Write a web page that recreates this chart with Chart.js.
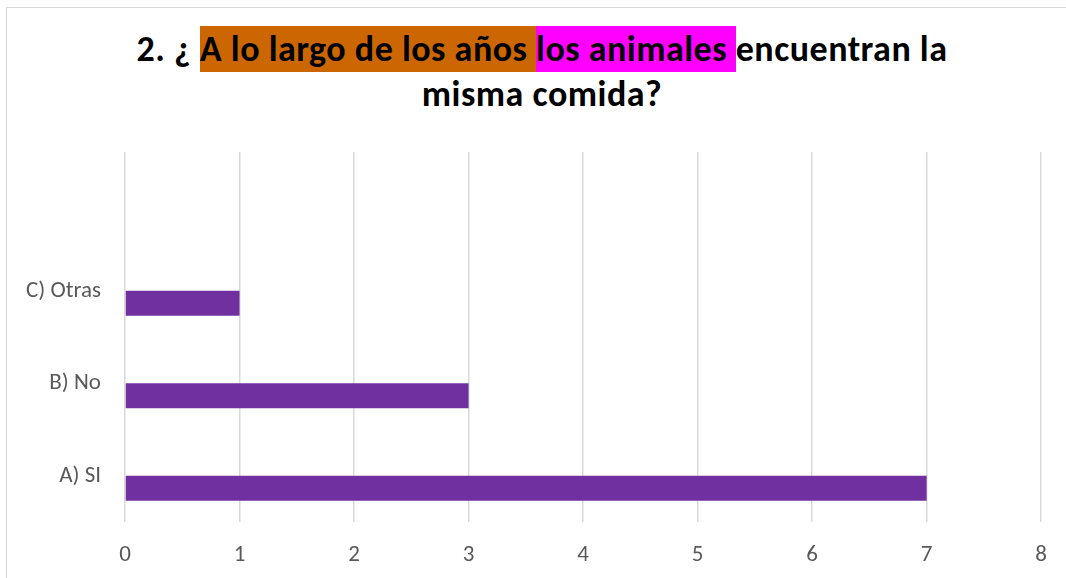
<!DOCTYPE html>
<html>
<head>
<meta charset="utf-8">
<script src="https://cdn.jsdelivr.net/npm/chart.js@4/dist/chart.umd.min.js"></script>
<style>
  html, body { margin: 0; padding: 0; background: #fff; }
  #wrap { position: relative; width: 1066px; height: 578px; overflow: hidden; }
  #frame { position: absolute; left: 6px; top: 7px; width: 1062px; height: 600px; border: 1px solid #d9d9d9; box-sizing: border-box; }
  #title { position: absolute; left: 9px; top: 27px; width: 1066px; text-align: center;
           font: bold 36px Carlito, Calibri, Lato, sans-serif; letter-spacing: 0.5px; line-height: 45px; color: #000; }
  #title span.o { background: #cc6600; padding: 1px 0; }
  #title span.m { background: #ff00ff; padding: 1px 0; }
  canvas { position: absolute; left: 0; top: 0; }
</style>
</head>
<body>
<div id="wrap">
  <div id="frame"></div>
  <div id="title">2. ¿ <span class="o">A lo largo de los años </span><span class="m">los animales </span>encuentran la<br>misma comida?</div>
  <canvas id="c" width="1066" height="578"></canvas>
</div>
<script>
// categorias (de abajo hacia arriba), la ultima vacia
var categories = ['A) SI', 'B) No', 'C) Otras', ''];
var values = [7, 3, 1, null];
// segunda serie vacia del grafico original (desplaza las barras)
var emptySeries = [null, null, null, null];
var xTicks = [0, 1, 2, 3, 4, 5, 6, 7, 8];

var font = 'Carlito, Calibri, "Open Sans", sans-serif';

const config = {
    type: 'bar',
    data: {
        labels: categories,
        datasets: [
            { label: 'Serie 2', data: emptySeries, backgroundColor: '#ed7d31' },
            { label: 'Serie 1', data: values, backgroundColor: '#7030a0' },
        ]
    },
    options: {
        responsive: false,
        animation: false,
        indexAxis: 'y',
        datasets: { bar: { barPercentage: 1, categoryPercentage: 0.54 } },
        layout: { padding: { top: 152, right: 21, left: 0, bottom: 0 } },
        plugins: { legend: { display: false }, tooltip: { enabled: false } },
        scales: {
            x: {
                min: xTicks[0],
                max: xTicks[xTicks.length - 1],
                afterBuildTicks: (s) => { s.ticks = xTicks.map(v => ({ value: v })); },
                afterFit: (s) => { s.height = 56; },
                grid: { color: '#d9d9d9', lineWidth: 1.5, drawTicks: false },
                border: { display: false },
                ticks: { color: '#595959', font: { family: font, size: 23 }, padding: 19 },
            },
            y: {
                reverse: true,
                afterFit: (s) => { s.width = 125; },
                grid: { display: false, drawTicks: false },
                border: { display: false },
                ticks: { color: '#595959', font: { family: font, size: 23 }, padding: 24 },
            }
        }
    }
};
new Chart(document.getElementById('c'), config);
</script>
</body>
</html>
